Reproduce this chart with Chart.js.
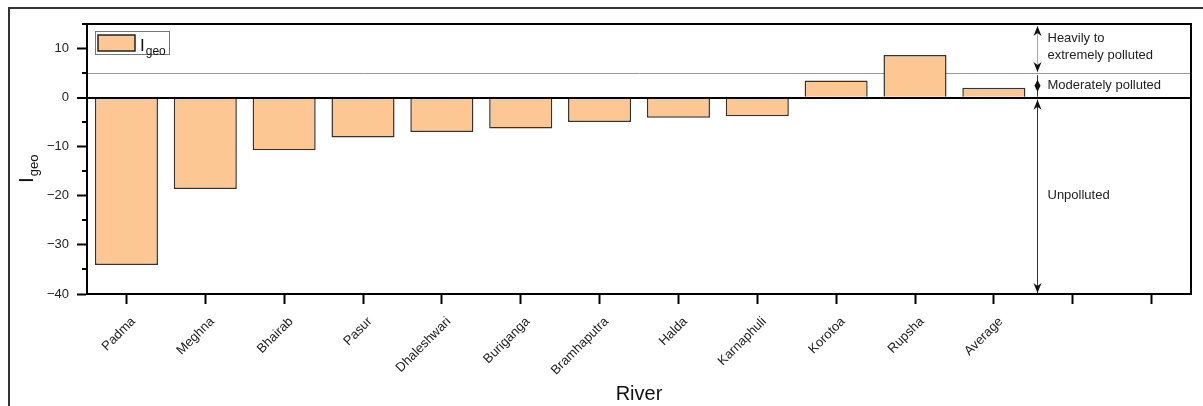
<!DOCTYPE html>
<html>
<head>
<meta charset="utf-8">
<script src="https://cdn.jsdelivr.net/npm/chart.js@4.4.1/dist/chart.umd.min.js"></script>
<style>
  html, body { margin: 0; padding: 0; background: #fff; }
  #wrap { position: relative; width: 1203px; height: 406px; }
  #frame { position: absolute; left: 8px; top: 7px; width: 1200px; height: 405px; border-top: 2px solid #333; border-left: 2px solid #333; pointer-events: none; }
</style>
</head>
<body>
<div id="wrap">
  <canvas id="igeoChart" width="1203" height="406"></canvas>
  <div id="frame"></div>
</div>
<script>
const rivers = ['Padma', 'Meghna', 'Bhairab', 'Pasur', 'Dhaleshwari', 'Buriganga', 'Bramhaputra', 'Halda', 'Karnaphuli', 'Korotoa', 'Rupsha', 'Average', '', ''];
const igeo = [-34.1, -18.6, -10.7, -8.1, -7.0, -6.3, -4.95, -4.1, -3.8, 3.5, 8.7, 2.0, null, null];
const yRange = [-40, 15];
const yStep = 5;
const yLabelEvery = 10;
const zoneLimits = [15, 5, 0, -40];
const zoneLabels = [['Heavily to', 'extremely polluted'], ['Moderately polluted'], ['Unpolluted']];
const arrowAt = 11.55;

const FONT = '"Liberation Sans", Arial, sans-serif';
const BAR = '#FDC794';

function arrowHead(ctx, x, y, dir) {
  // dir = -1 points up, 1 points down
  ctx.beginPath();
  ctx.moveTo(x, y);
  ctx.lineTo(x - 4, y - dir * 10);
  ctx.lineTo(x, y - dir * 7);
  ctx.lineTo(x + 4, y - dir * 10);
  ctx.closePath();
  ctx.fill();
}

const overlay = {
  id: 'overlay',
  afterDraw(chart) {
    const { ctx, chartArea: a, scales: { x, y } } = chart;
    ctx.save();

    // plot frame
    ctx.strokeStyle = '#000';
    ctx.lineWidth = 2;
    ctx.strokeRect(a.left, a.top, a.width, a.height);

    // minor y ticks
    for (let v = yRange[0]; v <= yRange[1]; v += yStep) {
      if (v % yLabelEvery === 0) continue;
      const py = Math.round(y.getPixelForValue(v));
      ctx.beginPath();
      ctx.moveTo(a.left - 5, py);
      ctx.lineTo(a.left, py);
      ctx.stroke();
    }

    // zone arrows
    const ax = Math.round(x.getPixelForValue(arrowAt)) + 0.5;
    const segColors = ['#aaa', '#333', '#333'];
    for (let i = 0; i < zoneLimits.length - 1; i++) {
      const y1 = y.getPixelForValue(zoneLimits[i]) + 2;
      const y2 = y.getPixelForValue(zoneLimits[i + 1]) - 1;
      ctx.strokeStyle = segColors[i];
      ctx.fillStyle = '#111';
      ctx.lineWidth = 1;
      ctx.beginPath();
      ctx.moveTo(ax, y1);
      ctx.lineTo(ax, y2);
      ctx.stroke();
      if (y2 - y1 > 24) {
        arrowHead(ctx, ax, y1, -1);
        arrowHead(ctx, ax, y2, 1);
      } else {
        const m = (y1 + y2) / 2;
        ctx.beginPath();
        ctx.moveTo(ax, m - 6); ctx.lineTo(ax - 3, m); ctx.lineTo(ax, m + 6); ctx.lineTo(ax + 3, m);
        ctx.closePath();
        ctx.fill();
      }
      // zone label
      const mid = y.getPixelForValue((zoneLimits[i] + zoneLimits[i + 1]) / 2);
      const lines = zoneLabels[i];
      ctx.fillStyle = '#222';
      ctx.font = '13px ' + FONT;
      ctx.textAlign = 'left';
      ctx.textBaseline = 'middle';
      lines.forEach((t, k) => {
        ctx.fillText(t, ax + 10, mid + (k - (lines.length - 1) / 2) * 17 - (lines.length > 1 ? 2 : 0));
      });
    }

    // legend
    const lx = a.left + 8, ly = a.top + 7;
    ctx.strokeStyle = '#777';
    ctx.lineWidth = 1;
    ctx.strokeRect(lx + 0.5, ly + 0.5, 74, 23);
    ctx.fillStyle = BAR;
    ctx.fillRect(lx + 3, ly + 4, 37, 16);
    ctx.strokeStyle = '#222';
    ctx.lineWidth = 1.5;
    ctx.strokeRect(lx + 3, ly + 4, 37, 16);
    ctx.fillStyle = '#111';
    ctx.textAlign = 'left';
    ctx.textBaseline = 'alphabetic';
    ctx.font = '17px ' + FONT;
    ctx.fillText('I', lx + 45, ly + 20);
    const iw = ctx.measureText('I').width;
    ctx.font = '12px ' + FONT;
    ctx.fillText('geo', lx + 45 + iw + 1, ly + 24);

    // y axis title
    ctx.save();
    ctx.translate(33, (a.top + a.bottom) / 2 + 24);
    ctx.rotate(-Math.PI / 2);
    ctx.font = '21px ' + FONT;
    ctx.fillText('I', 0, 0);
    const tw = ctx.measureText('I').width;
    ctx.font = '13px ' + FONT;
    ctx.fillText('geo', tw + 1, 5);
    ctx.restore();

    ctx.restore();
  }
};

new Chart(document.getElementById('igeoChart'), {
  type: 'bar',
  data: {
    labels: rivers,
    datasets: [{
      label: 'Igeo',
      data: igeo,
      backgroundColor: BAR,
      borderColor: '#333',
      borderWidth: 1.5,
      barPercentage: 0.8,
      categoryPercentage: 1.0,
    }],
  },
  options: {
    responsive: false,
    animation: false,
    layout: { padding: { top: 24, right: 12, left: 0, bottom: 0 } },
    plugins: { legend: { display: false }, tooltip: { enabled: false } },
    scales: {
      x: {
        afterFit(scale) { scale.height = 112; },
        grid: { offset: false, drawOnChartArea: false, drawTicks: true, tickLength: 10, tickColor: '#000', tickWidth: 2 },
        border: { display: true, color: '#000', width: 2 },
        ticks: { color: '#222', font: { family: FONT, size: 13 }, minRotation: 45, maxRotation: 45, padding: 10, labelOffset: 7, autoSkip: false },
        title: { display: true, text: 'River', color: '#111', font: { family: FONT, size: 20 }, padding: { top: 0, bottom: 0 } },
      },
      y: {
        min: yRange[0],
        max: yRange[1],
        afterFit(scale) { scale.width = 87; },
        grid: {
          drawOnChartArea: true,
          drawTicks: true,
          tickLength: 10,
          tickWidth: 2,
          color: (c) => (c.tick && c.tick.value === 0 ? '#000' : c.tick && c.tick.value === 5 ? '#999' : 'rgba(0,0,0,0)'),
          lineWidth: (c) => (c.tick && c.tick.value === 0 ? 2 : 1),
          tickColor: (c) => (c.tick && c.tick.value % yLabelEvery === 0 ? '#000' : 'rgba(0,0,0,0)'),
        },
        border: { display: true, color: '#000', width: 2 },
        ticks: {
          stepSize: yStep,
          color: '#222',
          padding: 8,
          font: { family: FONT, size: 13 },
          callback: (v) => (v % yLabelEvery === 0 ? String(v).replace('-', '\u2212') : ''),
        },
      },
    },
  },
  plugins: [overlay],
});
</script>
</body>
</html>
